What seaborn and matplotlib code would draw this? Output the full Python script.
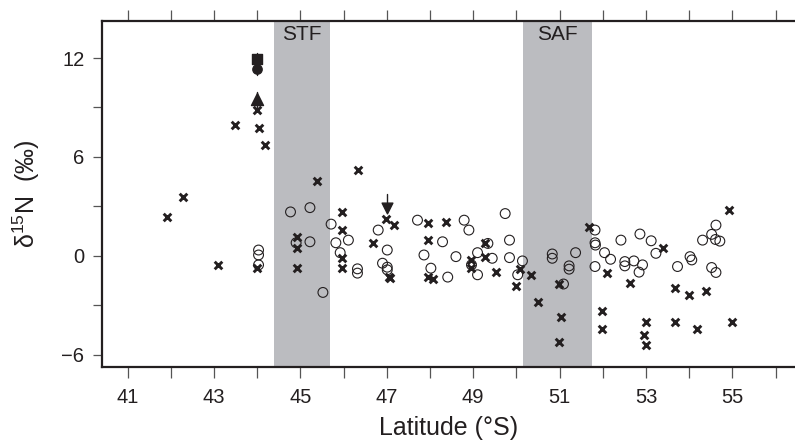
import pandas as pd
import numpy as np
import matplotlib
matplotlib.use("Agg")
import matplotlib.pyplot as plt
import seaborn as sns

# crosses
cross_lat = [41.9, 42.29, 43.09, 43.49, 44.0, 44.04, 44.18, 44.0, 44.93, 44.93, 44.93, 45.38,
             45.97, 45.97, 45.97, 45.97, 46.34, 46.97, 47.17, 46.67, 47.05, 47.08, 47.96, 48.36,
             47.96, 47.96, 48.06, 48.96, 48.96, 49.28, 49.28, 49.53, 50.08, 49.99, 50.34, 50.99,
             50.49, 51.03, 50.99, 51.68, 52.09, 52.63, 51.99, 51.99, 53.39, 52.99, 52.95, 52.99,
             53.68, 53.99, 53.68, 54.39, 54.19, 54.93, 54.98]
cross_d15n = [2.37, 3.57, -0.54, 7.93, 8.84, 7.75, 6.75, -0.74, 1.16, 0.46, -0.7, 4.54,
              2.67, 1.57, -0.1, -0.7, 5.22, 2.27, 1.87, 0.8, -1.28, -1.34, 1.97, 2.07,
              0.96, -1.28, -1.39, -0.24, -0.74, 0.8, -0.04, -0.98, -0.8, -1.81, -1.14, -1.7,
              -2.81, -3.69, -5.2, 1.77, -1.04, -1.64, -3.31, -4.42, 0.46, -4.02, -4.8, -5.4,
              -1.93, -2.35, -4.02, -2.13, -4.42, 2.77, -4.02]

# open circles
circ_lat = [44.03, 44.03, 44.03, 44.77, 44.9, 45.22, 45.22, 45.52, 45.71, 45.82, 46.11, 45.92,
            46.32, 46.32, 46.8, 47.01, 46.9, 47.01, 47.01, 47.71, 48.79, 48.9, 48.29, 47.86,
            48.6, 48.02, 48.41, 49.1, 48.96, 49.1, 49.74, 49.34, 49.84, 49.44, 49.84, 50.14,
            50.03, 50.83, 50.83, 51.37, 51.22, 51.22, 51.09, 51.82, 51.82, 51.83, 51.82, 52.04,
            52.18, 52.42, 52.51, 52.51, 52.72, 52.92, 52.84, 52.86, 53.12, 53.23, 53.73, 54.02,
            54.06, 54.31, 54.52, 54.62, 54.61, 54.71, 54.52, 54.62]
circ_d15n = [0.36, 0.06, -0.54, 2.67, 0.8, 2.93, 0.86, -2.21, 1.93, 0.8, 0.96, 0.2,
             -0.78, -1.04, 1.57, 0.36, -0.44, -0.68, -0.84, 2.17, 2.17, 1.57, 0.86, 0.06,
             -0.04, -0.74, -1.28, 0.2, -0.54, -1.14, 2.57, 0.76, 0.96, -0.14, -0.1, -0.3,
             -1.14, 0.12, -0.14, 0.2, -0.6, -0.8, -1.7, 1.57, 0.8, 0.66, -0.64, 0.2,
             -0.2, 0.96, -0.34, -0.6, -0.3, -0.54, -0.98, 1.33, 0.92, 0.16, -0.64, -0.04,
             -0.24, 0.96, 1.31, 1.87, 1.0, 0.9, -0.7, -1.0]

# filled symbols at 44 S and the arrow at 47 S
square_pt = (44.0, 11.92)
dot_pt = (44.0, 11.35)
tri_pt = (44.0, 9.5)
arrow_lat, arrow_top, arrow_tip = 47.0, 3.75, 2.9

fronts = {'STF': (44.39, 45.69), 'SAF': (50.16, 51.74)}

df_cross = pd.DataFrame({'lat': cross_lat, 'd15n': cross_d15n})
df_circ = pd.DataFrame({'lat': circ_lat, 'd15n': circ_d15n})

sns.set_style("ticks")
plt.rcParams['font.family'] = ['Liberation Sans', 'DejaVu Sans']
plt.rcParams['mathtext.fontset'] = 'custom'
plt.rcParams['mathtext.rm'] = 'Liberation Sans'
plt.rcParams['mathtext.it'] = 'Liberation Sans'

ink = '#231f20'
fig = plt.figure(figsize=(7.95, 4.41), dpi=100)
ax = fig.add_axes([0.128, 0.1667, 0.872, 0.7863])

for name, (lo, hi) in fronts.items():
    ax.axvspan(lo, hi, color='#bbbcc0', lw=0, zorder=0)
    ax.text((lo + hi) / 2, 13.45, name, ha='center', va='center', fontsize=15, color=ink)

sns.scatterplot(x='lat', y='d15n', data=df_circ, marker='o', s=50, facecolor='none',
                edgecolor=ink, linewidth=0.8, ax=ax, zorder=3)
sns.scatterplot(x='lat', y='d15n', data=df_cross, marker='x', s=30, color=ink,
                linewidth=2.1, ax=ax, zorder=4)

# error bars and filled symbols
ax.plot([44.0, 44.0], [11.0, 12.3], color=ink, lw=1, zorder=4)
ax.plot([44.0, 44.0], [9.0, 9.95], color=ink, lw=1, zorder=4)
ax.scatter(*square_pt, marker='s', s=45, color=ink, zorder=5)
ax.scatter(*dot_pt, marker='o', s=45, color=ink, zorder=5)
ax.scatter(*tri_pt, marker='^', s=75, color=ink, zorder=5)
ax.plot([arrow_lat, arrow_lat], [arrow_top, arrow_tip], color=ink, lw=1, zorder=4)
ax.scatter(arrow_lat, arrow_tip, marker='v', s=60, color=ink, zorder=5)

ax.set_xlim(40.4, 56.45)
ax.set_ylim(-6.76, 14.26)
ax.set_xticks(np.arange(41, 57, 1))
ax.set_xticklabels([str(t) if t % 2 == 1 else '' for t in range(41, 57)])
ax.set_yticks(np.arange(-6, 13, 3))
ax.set_yticklabels([str(t).replace('-', '\u2212') if t % 6 == 0 else '' for t in range(-6, 13, 3)])
ax.tick_params(axis='both', which='major', direction='out', width=0.9,
               color='#555555', labelsize=14.5, labelcolor=ink)
ax.tick_params(axis='x', top=True, length=8, pad=7)
ax.tick_params(axis='y', length=6.5, pad=6)

ax.spines['right'].set_visible(False)
for s in ['left', 'top', 'bottom']:
    ax.spines[s].set_linewidth(1.6)
    ax.spines[s].set_color(ink)

ax.set_xlabel('Latitude (°S)', fontsize=18, color=ink, labelpad=6)
ax.set_ylabel('δ$^{15}$N  (‰)', fontsize=18, color=ink, labelpad=14)

fig.savefig('out.png', dpi=100)
